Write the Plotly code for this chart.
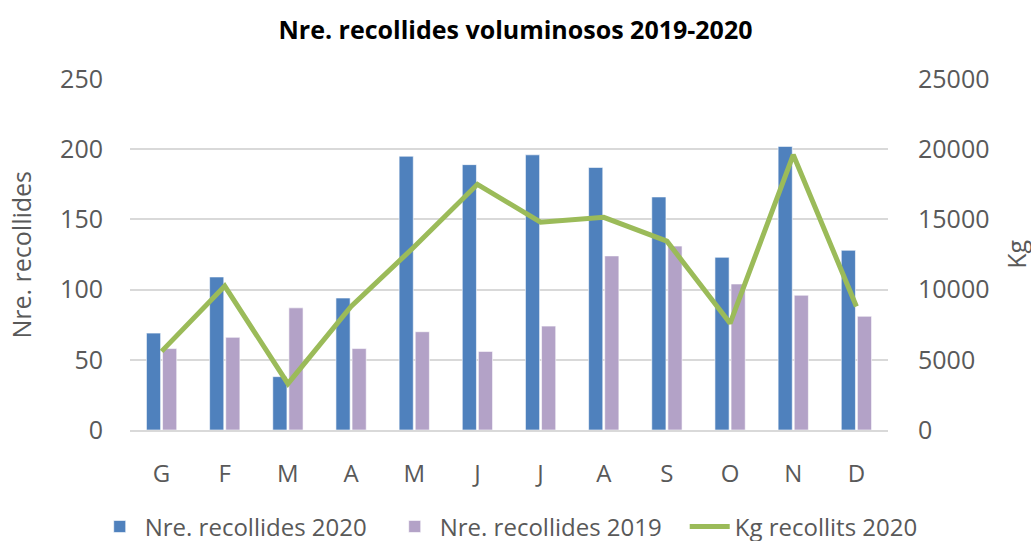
import plotly.graph_objects as go

# months (Catalan initials)
mesos = ["G", "F", "M", "A", "M", "J", "J", "A", "S", "O", "N", "D"]
recollides_2020 = [69, 109, 38, 94, 195, 189, 196, 187, 166, 123, 202, 128]
recollides_2019 = [58, 66, 87, 58, 70, 56, 74, 124, 131, 104, 96, 81]
kg_2020 = [5600, 10250, 3300, 8800, 13050, 17500, 14800, 15150, 13450, 7600, 19600, 8800]

# positions so repeated letters stay separate categories
x_pos = list(range(len(mesos)))

FONT = "Open Sans, Noto Sans, sans-serif"
GREY = "#595959"

fig = go.Figure()
fig.add_trace(go.Bar(
    x=x_pos, y=recollides_2020, name="Nre. recollides 2020",
    marker=dict(color="#4F81BD", line=dict(color="#FFFFFF", width=0.6)),
))
fig.add_trace(go.Bar(
    x=x_pos, y=recollides_2019, name="Nre. recollides 2019",
    marker=dict(color="#B3A2C7", line=dict(color="#FFFFFF", width=0.6)),
))
fig.add_trace(go.Scatter(
    x=x_pos, y=kg_2020, name="Kg recollits 2020", yaxis="y2",
    mode="lines", line=dict(color="#9BBB59", width=5),
))

fig.update_layout(
    width=1031, height=541,
    margin=dict(l=130, r=143, t=79, b=111, autoexpand=False),
    paper_bgcolor="white", plot_bgcolor="white",
    font=dict(family=FONT, color=GREY, size=24),
    title=dict(
        text="<b>Nre. recollides voluminosos 2019-2020</b>",
        x=0.5, xanchor="center", y=0.945, yanchor="middle",
        font=dict(family=FONT, size=25, color="#000000"),
    ),
    barmode="group", bargap=0.49, bargroupgap=0.12,
    xaxis=dict(
        tickmode="array", tickvals=x_pos, ticktext=mesos,
        range=[-0.5, 11.5], showgrid=False, automargin=False,
        showline=True, linecolor="#D9D9D9", linewidth=1.5,
        ticklabelstandoff=21, tickfont=dict(size=24, color=GREY),
    ),
    yaxis=dict(
        range=[0, 250], dtick=50, showgrid=True, automargin=False,
        gridcolor="#D9D9D9", gridwidth=1.5, zeroline=False,
        ticklabelstandoff=26, tickfont=dict(size=25, color=GREY),
    ),
    yaxis2=dict(
        range=[0, 25000], dtick=5000, overlaying="y", side="right",
        showgrid=False, zeroline=False, automargin=False, tickformat="d",
        ticklabelstandoff=29, tickfont=dict(size=25, color=GREY),
    ),
    legend=dict(
        orientation="h", x=1.121, xanchor="right", y=-0.276, yanchor="middle",
        font=dict(size=24, color=GREY), itemwidth=40, traceorder="normal",
        entrywidth=240,
    ),
    annotations=[
        dict(text="Nre. recollides", textangle=-90, x=-0.145, y=0.5,
             xref="paper", yref="paper", showarrow=False,
             xanchor="center", yanchor="middle", font=dict(size=25, color=GREY)),
        dict(text="Kg", textangle=-90, x=1.168, y=0.5,
             xref="paper", yref="paper", showarrow=False,
             xanchor="center", yanchor="middle", font=dict(size=25, color=GREY)),
    ],
)

# page body has a default 8px margin, drop it so the figure fills the window
fig.write_html("out.html", config={"displayModeBar": False},
               post_script="document.body.style.margin='0';")
